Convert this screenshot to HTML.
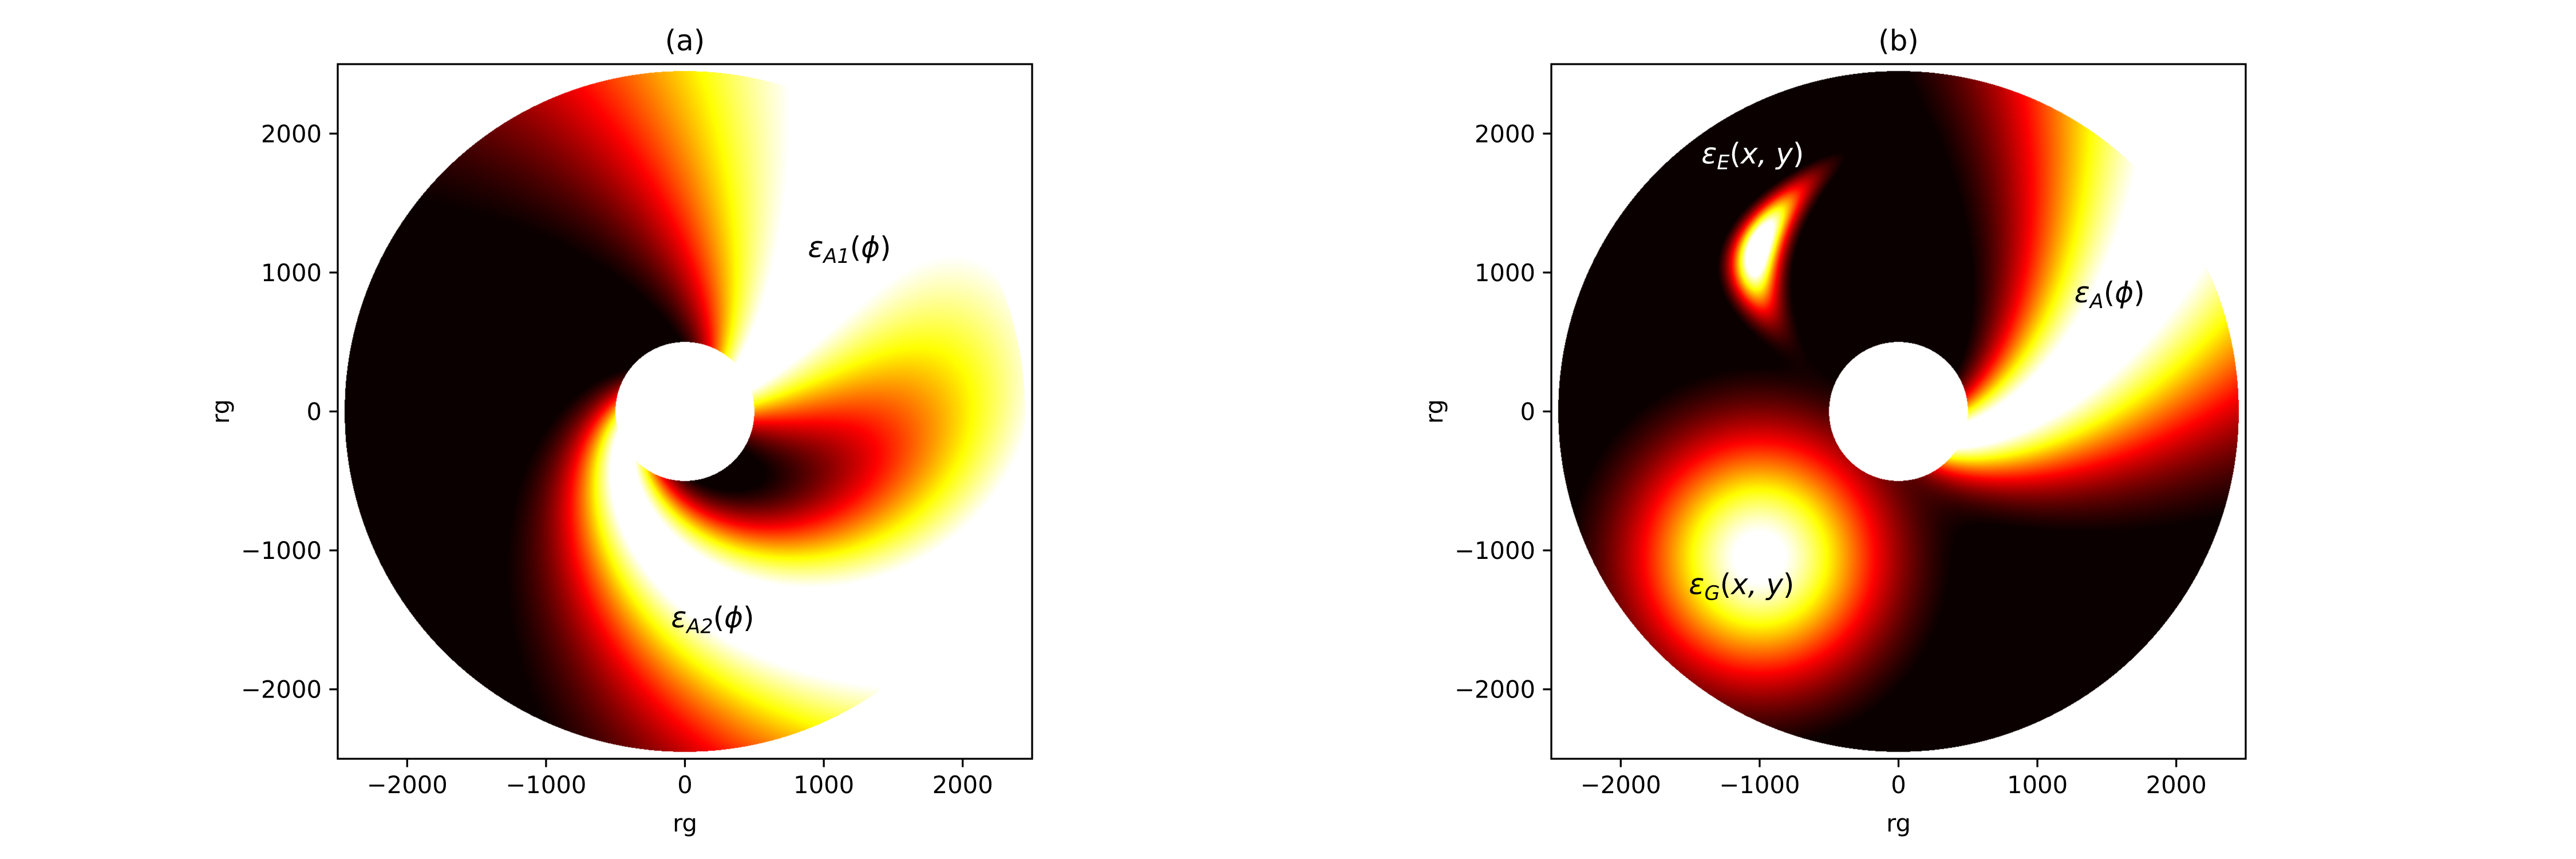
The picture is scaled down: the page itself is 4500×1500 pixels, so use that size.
<!DOCTYPE html>
<html><head><meta charset="utf-8">
<style>
html,body{margin:0;padding:0;background:#fff;}
#fig{position:relative;width:4500px;height:1500px;overflow:hidden;font-family:"DejaVu Sans","Liberation Sans",sans-serif;}
canvas{position:absolute;}
svg{position:absolute;left:0;top:0;}
</style></head>
<body>
<div id="fig">
<canvas id="cva" width="1213" height="1213" style="left:590px;top:112px"></canvas>
<canvas id="cvb" width="1213" height="1213" style="left:2710px;top:112px"></canvas>
<svg id="ov" width="4500" height="1500"></svg>
</div>
<script>
// ---- data ----
const ticks = [-2000, -1000, 0, 1000, 2000];
const tickLabels = ["\u22122000", "\u22121000", "0", "1000", "2000"];
const axisRange = [-2500, 2500];
const diskRadii = [500, 2450];
// panel (a) spiral arms: [inner center angle deg, outer center angle deg]
const armA1Angles = [30, 55];
const armA2Angles = [210, 322];
const armWidthsA1 = [28, 38];
const armWidthsA2 = [30, 34];
const armAmps = [1.2, 1.2];
const offsetA = [0.09];
// panel (b)
const armBAngles = [-20, 35];      // at r=500, slope per ln(r/500)
const armBWidth = [24];
const armBAmp = [1.2];
const gaussG = [-1000, -1050, 620, 1.15]; // x, y, sigma, amp
const crescentE = [-1000, 1200, 0.331, 0.000812, 120, -30, 300, 1.35]; // x0,y0,b,a,w,u0,L,amp
const offsetB = [0.1];

const AX = {a:{x0:590,y0:112}, b:{x0:2710,y0:112}};
const SIZE = 1213;
const S = SIZE/(axisRange[1]-axisRange[0]);
function px(ax, x){return AX[ax].x0 + (x-axisRange[0])*S;}
function py(ax, y){return AX[ax].y0 + (axisRange[1]-y)*S;}

function hot(v){
  v=Math.max(0,Math.min(1,v));
  const r=Math.min(1,0.0416+v*(1-0.0416)/0.365);
  const g=Math.max(0,Math.min(1,(v-0.365)/0.381));
  const b=Math.max(0,Math.min(1,(v-0.746)/0.254));
  return [r*255,g*255,b*255];
}
function wrap(d){return ((d%360)+540)%360-180;}
const LN = Math.log(diskRadii[1]/diskRadii[0]);

function valA(x,y,r,phi){
  const t=Math.log(r/diskRadii[0])/LN;
  const c1=armA1Angles[0]+(armA1Angles[1]-armA1Angles[0])*t;
  const c2=armA2Angles[0]+(armA2Angles[1]-armA2Angles[0])*t;
  const s1=armWidthsA1[0]+(armWidthsA1[1]-armWidthsA1[0])*t;
  const s2=armWidthsA2[0]+(armWidthsA2[1]-armWidthsA2[0])*t;
  const d1=wrap(phi-c1), d2=wrap(phi-c2);
  return armAmps[0]*Math.exp(-d1*d1/(2*s1*s1))+armAmps[1]*Math.exp(-d2*d2/(2*s2*s2))-offsetA[0];
}
function valB(x,y,r,phi){
  const c=armBAngles[0]+armBAngles[1]*Math.log(r/diskRadii[0]);
  const d=wrap(phi-c);
  let v=armBAmp[0]*Math.exp(-d*d/(2*armBWidth[0]*armBWidth[0]));
  const gx=x-gaussG[0], gy=y-gaussG[1];
  v+=gaussG[3]*Math.exp(-(gx*gx+gy*gy)/(2*gaussG[2]*gaussG[2]));
  const u=y-crescentE[1];
  const xc=crescentE[0]+crescentE[2]*u+crescentE[3]*u*u;
  const dx=x-xc, du=u-crescentE[5];
  v+=crescentE[7]*Math.exp(-dx*dx/(2*crescentE[4]*crescentE[4]))*Math.exp(-du*du/(2*crescentE[6]*crescentE[6]));
  return v-offsetB[0];
}
function drawDisk(id, fn){
  const cv=document.getElementById(id), ctx=cv.getContext('2d');
  const img=ctx.createImageData(SIZE,SIZE), D=img.data;
  for(let j=0;j<SIZE;j++){
    const y=axisRange[1]-(j+0.5)/S;
    for(let i=0;i<SIZE;i++){
      const x=axisRange[0]+(i+0.5)/S;
      const r=Math.hypot(x,y); const k=(j*SIZE+i)*4;
      if(r<diskRadii[0]||r>diskRadii[1]){D[k]=D[k+1]=D[k+2]=255;D[k+3]=255;continue;}
      const phi=Math.atan2(y,x)*180/Math.PI;
      const c=hot(fn(x,y,r,phi));
      D[k]=c[0];D[k+1]=c[1];D[k+2]=c[2];D[k+3]=255;
    }
  }
  ctx.putImageData(img,0,0);
}
drawDisk('cva',valA);
drawDisk('cvb',valB);

const NS="http://www.w3.org/2000/svg";
const ov=document.getElementById('ov');
function el(tag,attrs,txt){const e=document.createElementNS(NS,tag);for(const k in attrs)e.setAttribute(k,attrs[k]);if(txt!==undefined)e.textContent=txt;ov.appendChild(e);return e;}

['a','b'].forEach(ax=>{
  const x0=AX[ax].x0,y0=AX[ax].y0;
  const fr=el('rect',{x:x0,y:y0,width:SIZE,height:SIZE,fill:'none',stroke:'#000','stroke-width':3.3});
  
  
  ticks.forEach((t,i)=>{
    const X=px(ax,t);
    const tk=el('line',{x1:X,y1:y0+SIZE,x2:X,y2:y0+SIZE+14.6,stroke:'#000','stroke-width':3.3});
    
    
    const tl=el('text',{x:X,y:y0+SIZE+60,'text-anchor':'middle','font-size':41.7},tickLabels[i]);
    
    
    const Y=py(ax,t);
    const ty=el('line',{x1:x0,y1:Y,x2:x0-14.6,y2:Y,stroke:'#000','stroke-width':3.3});
    
    
    const yl=el('text',{x:x0-28,y:Y+15,'text-anchor':'end','font-size':41.7},tickLabels[i]);
    
    
  });
  const xt=el('text',{x:x0+SIZE/2,y:y0+SIZE+127,'text-anchor':'middle','font-size':41.7},'rg');
  
  
  const cx=ax==='a'?400:2520, cy=y0+SIZE/2;
  const yt=el('text',{x:cx,y:cy,'text-anchor':'middle','font-size':41.7,transform:`rotate(-90 ${cx} ${cy})`},'rg');
  
  
  const tt=el('text',{x:x0+SIZE/2,y:y0-24,'text-anchor':'middle','font-size':50},'('+ax+')');
  
  
});

function label(ax,x,y,sub,arg,color,name){
  const t=el('text',{x:px(ax,x),y:py(ax,y)+18,'text-anchor':'middle','font-size':50,fill:color});
  
  
  const a=document.createElementNS(NS,'tspan');a.setAttribute('font-style','italic');a.textContent='\u03b5';t.appendChild(a);
  const b=document.createElementNS(NS,'tspan');b.setAttribute('font-size','35');b.setAttribute('dy','10');b.setAttribute('font-style','italic');b.textContent=sub;t.appendChild(b);
  const c=document.createElementNS(NS,'tspan');c.setAttribute('dy','-10');c.textContent='(';t.appendChild(c);
  const d=document.createElementNS(NS,'tspan');d.setAttribute('font-style','italic');d.textContent=arg;t.appendChild(d);
  const e=document.createElementNS(NS,'tspan');e.textContent=')';t.appendChild(e);
}
label('a',1185,1185,'A1','\u03d5','#000','label-eps-a1');
label('a',200,-1480,'A2','\u03d5','#000','label-eps-a2');
label('b',-1050,1860,'E','x, y','#fff','label-eps-e');
label('b',1520,860,'A','\u03d5','#000','label-eps-a');
label('b',-1130,-1240,'G','x, y','#000','label-eps-g');
</script>
</body></html>
